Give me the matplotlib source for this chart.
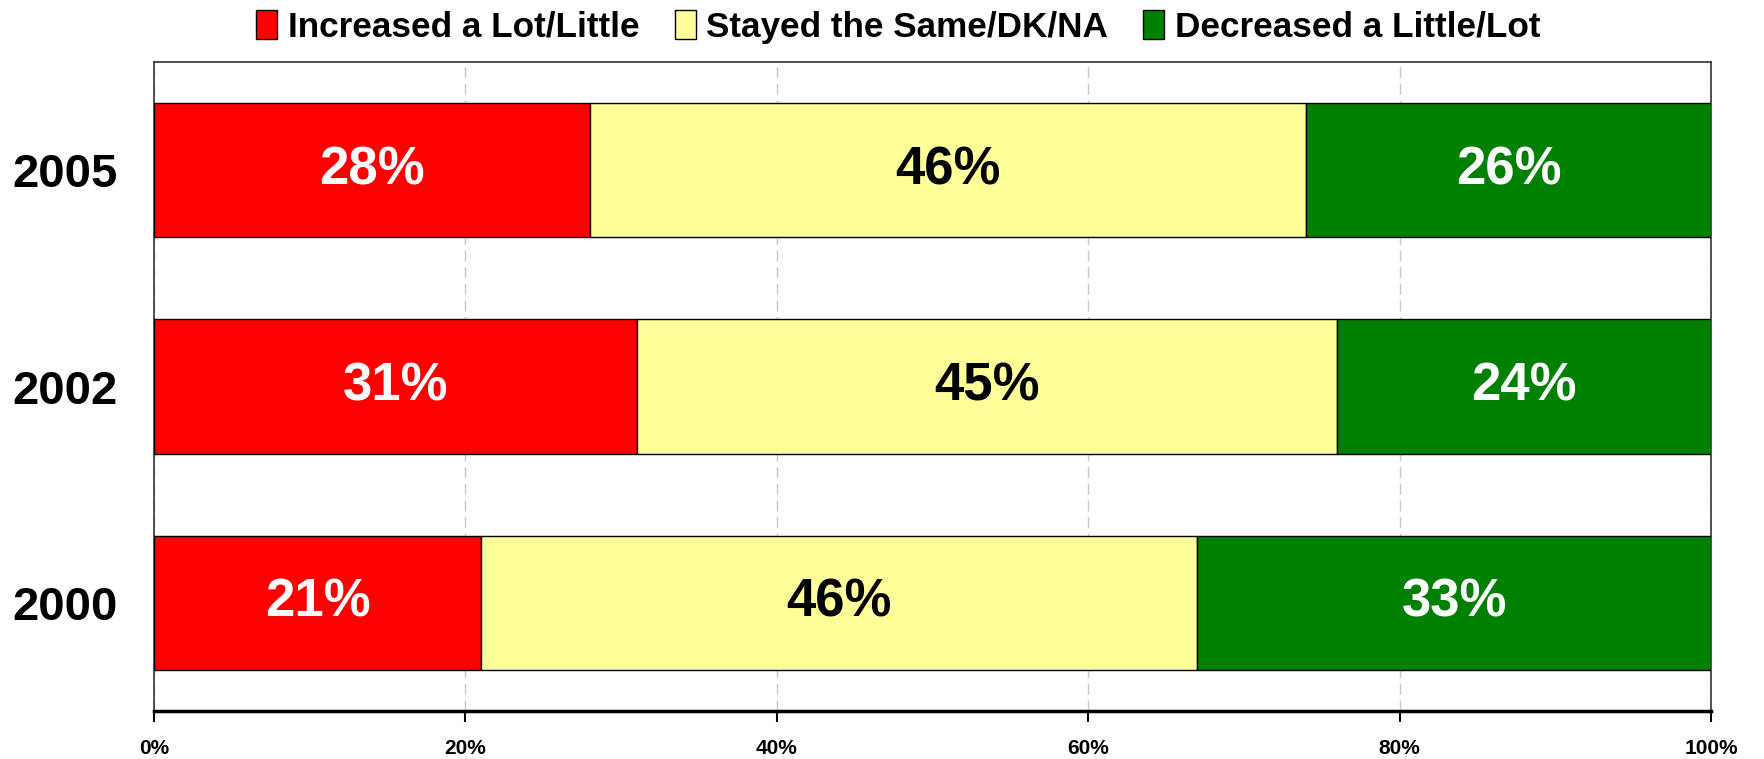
import matplotlib
matplotlib.use("Agg")
import matplotlib.pyplot as plt
import numpy as np

years = ["2000", "2002", "2005"]
increased = [21, 31, 28]
same = [46, 45, 46]
decreased = [33, 24, 26]
series_names = ["Increased a Lot/Little", "Stayed the Same/DK/NA", "Decreased a Little/Lot"]
series_colors = ["#FF0000", "#FFFF99", "#008000"]
label_colors = ["white", "black", "white"]
xticks = [0, 20, 40, 60, 80, 100]

plt.rcParams['font.family'] = ["Liberation Sans", 'DejaVu Sans']

fig = plt.figure(figsize=(17.65, 7.59), dpi=100)
ax = fig.add_axes([154/1765, 1-711/759, (1711-154)/1765, (711-62)/759])

y = np.arange(len(years))
left = np.zeros(len(years))
for vals, name, col, lc in zip([increased, same, decreased], series_names, series_colors, label_colors):
    ax.barh(y, vals, left=left, height=0.62, color=col, edgecolor="black",
            linewidth=1.0, label=name, zorder=3)
    for yi, v, l in zip(y, vals, left):
        ax.text(l + v/2, yi, f"{v}%", ha="center", va="center", color=lc,
                fontsize=38, fontweight="bold", zorder=4)
    left = left + np.array(vals)

ax.set_xlim(0, 100)
ax.set_ylim(-0.5, 2.5)
ax.set_yticks(y)
ax.set_yticklabels(years, fontsize=34, fontweight="bold")
ax.set_xticks(xticks)
ax.set_xticklabels([f"{t}%" for t in xticks], fontsize=15, fontweight="bold")
ax.tick_params(axis="y", length=0, pad=26)
ax.tick_params(axis="x", direction="out", length=8, width=1.5, pad=12)
ax.xaxis.grid(True, color="#C8C8C8", linestyle=(0, (8, 4)), linewidth=1.0, zorder=0)
for s in ["top", "right", "left"]:
    ax.spines[s].set_color("#333333")
    ax.spines[s].set_linewidth(1.2)
ax.spines["bottom"].set_linewidth(2.5)
ax.spines["bottom"].set_color("black")

leg = fig.legend(loc="center", bbox_to_anchor=(0.509, 1-27/759), ncol=3, frameon=False,
                 prop={"size": 25.3, "weight": "bold"}, handlelength=0.6, handleheight=0.9,
                 handletextpad=0.3, columnspacing=1.0)
for h in leg.legend_handles:
    h.set_edgecolor("black")
    h.set_linewidth(1.0)

fig.savefig("out.png", dpi=100)
